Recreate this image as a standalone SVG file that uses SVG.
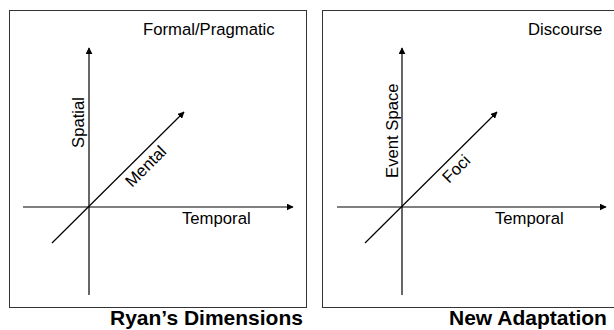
<svg xmlns="http://www.w3.org/2000/svg" width="614" height="330" viewBox="0 0 614 330">
<style>
.frame{fill:#fff;stroke:#333;stroke-width:1}
.ax{stroke:#000;stroke-width:1.2;fill:none}
.lbl{font-family:"Liberation Sans",Arial,sans-serif;font-size:16.7px;fill:#000}
.ttl{font-family:"Liberation Sans",Arial,sans-serif;font-size:21px;font-weight:bold;fill:#000}
</style>
<defs>
<marker id="ah" viewBox="0 0 10 10" refX="9" refY="5" markerWidth="7" markerHeight="7" markerUnits="userSpaceOnUse" orient="auto">
<path d="M0,0 L10,5 L0,10 z" fill="#000"/>
</marker>
</defs>
<rect width="614" height="330" fill="#fff"/>
<g id="panel-ryan">
<rect class="frame" x="9.5" y="10.5" width="297" height="297"/>
<text class="lbl" x="143" y="35">Formal/Pragmatic</text>
<text class="lbl" transform="translate(84,148) rotate(-90)">Spatial</text>
<text class="lbl" transform="translate(132,188) rotate(-45)">Mental</text>
<text class="lbl" x="182" y="224">Temporal</text>
<text class="ttl" x="110" y="325">Ryan’s Dimensions</text>
</g>
<g id="panel-new">
<rect class="frame" x="322.5" y="10.5" width="300" height="297"/>
<text class="lbl" x="528" y="35">Discourse</text>
<text class="lbl" transform="translate(398,178) rotate(-90)">Event Space</text>
<text class="lbl" transform="translate(449,184) rotate(-45)">Foci</text>
<text class="lbl" x="495" y="224">Temporal</text>
<text class="ttl" x="449" y="325">New Adaptation</text>
</g>
<g id="connectors">
<line class="ax" x1="89" y1="295" x2="89" y2="48" marker-end="url(#ah)"/>
<line class="ax" x1="23" y1="207" x2="293" y2="207" marker-end="url(#ah)"/>
<line class="ax" x1="52" y1="243" x2="184" y2="112" marker-end="url(#ah)"/>
<line class="ax" x1="402" y1="295" x2="402" y2="48" marker-end="url(#ah)"/>
<line class="ax" x1="337" y1="207" x2="606" y2="207" marker-end="url(#ah)"/>
<line class="ax" x1="365" y1="243" x2="497" y2="112" marker-end="url(#ah)"/>
</g>
</svg>
